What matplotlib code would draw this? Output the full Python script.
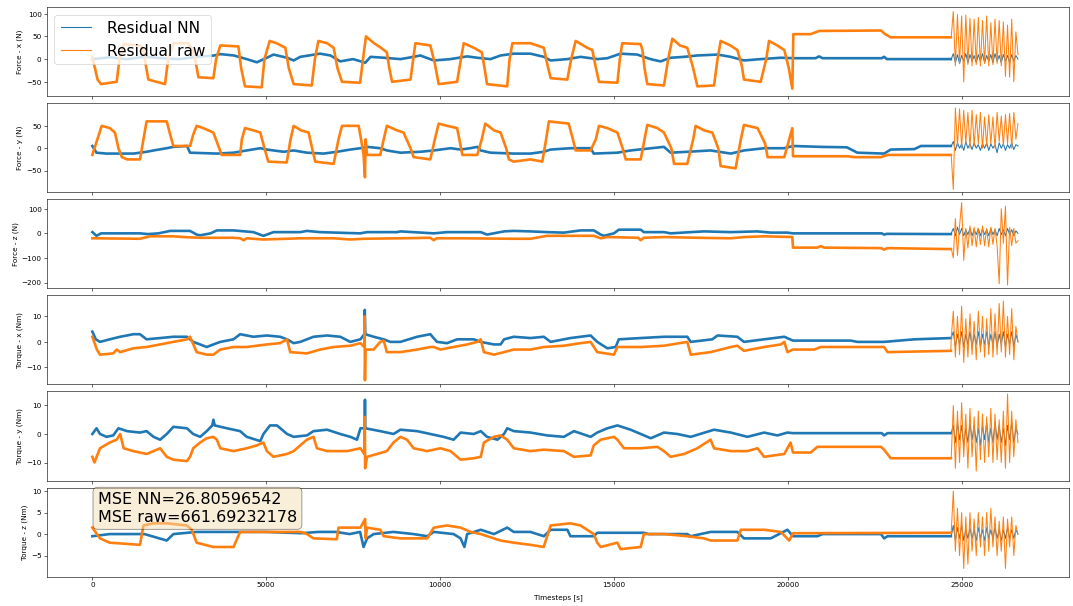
import numpy as np
import matplotlib.pyplot as plt

# residual traces as (timestep, value) knots,
# the oscillating tail (from step 24700 on) is given on a 60 step grid

fx_nn = [(0, 0), (500, 4), (1000, 0), (1500, 5), (2000, 2), (2500, 0), (3000, 5), (3500, 8),
         (3680, 11), (4070, 8), (4440, 0), (4730, -7), (5020, 3), (5210, 10), (5600, 3), (5790, -3),
         (5980, 5), (6550, 12), (6850, 8), (7130, -5), (7500, 0), (7850, -8), (8000, 5), (8380, 3),
         (8860, 0), (9240, 5), (9430, 8), (9820, -3), (10300, 0), (10780, 6), (11070, 3), (11450, 0),
         (11740, 8), (12120, 12), (12600, 12), (12985, 5), (13180, -3), (13660, 0), (14040, 5),
         (14520, 0), (14810, 2), (15190, 12), (15670, 10), (16050, 0), (16340, -5), (16630, 3),
         (17020, 5), (17400, 8), (17980, 10), (18360, 5), (18740, -3), (19220, 0), (19800, 3),
         (20180, 2), (20800, 2), (20900, 6), (21000, 2), (22700, 2), (22770, 5), (22850, 0), (24690, 0)]
fx_raw = [(0, 5), (150, -45), (250, -55), (700, -50), (780, 0), (900, 33), (1370, 30), (1450, 25),
          (1530, -10), (1610, -45), (2090, -55), (2180, 0), (2330, 35), (2750, 35), (2900, 20),
          (2980, -10), (3050, -40), (3480, -42), (3560, 0), (3680, 30), (4200, 28), (4280, -20),
          (4390, -60), (4870, -62), (4950, 0), (5100, 40), (5300, 35), (5550, 25), (5650, -20),
          (5790, -55), (6310, -58), (6400, 0), (6500, 40), (6750, 35), (6940, 25), (7050, -20),
          (7180, -50), (7700, -52), (7800, 10), (7870, 50), (8100, 35), (8300, 25), (8470, 15),
          (8540, -20), (8620, -50), (9150, -45), (9220, -5), (9290, 35), (9720, 30), (9850, -10),
          (9960, -55), (10490, -50), (10600, 0), (10680, 35), (10970, 25), (11200, 15), (11280, -20),
          (11350, -55), (11930, -60), (12000, 0), (12080, 35), (12600, 35), (12985, 25), (13080, -10),
          (13180, -42), (13660, -45), (13770, 0), (13900, 40), (14230, 25), (14380, 20), (14470, -15),
          (14570, -50), (15100, -52), (15170, 0), (15240, 35), (15770, 33), (15820, 20), (15880, -20),
          (15960, -55), (16440, -58), (16560, 0), (16680, 45), (16900, 30), (17110, 25), (17280, -20),
          (17400, -60), (17880, -58), (17980, 0), (18070, 40), (18350, 30), (18550, 20), (18680, -15),
          (18740, -45), (19220, -50), (19380, 0), (19460, 40), (19700, 30), (19900, 20), (20030, -20),
          (20130, -65), (20160, 55), (20660, 55), (20900, 62), (22680, 63), (22800, 55), (22960, 48),
          (24690, 48)]
fx_nn_osc = [0, 12, -8, 10, -10, 8, -5, 12, -8, 10, -5, 8, -8, 10, -5, 12, -8, 8, -5, 10, -8, 12,
             -5, 8, -8, 10, -5, 8, -8, 10, -5, 8, 0]
fx_raw_osc = [48, 105, -15, 98, -10, 95, -50, 97, -12, 90, -15, 88, -12, 92, -15, 85, -10, 95, -15,
              80, -12, 88, -10, 85, -15, 82, -38, 75, -40, 88, -50, 60, 10]

fy_nn = [(0, 5), (120, -10), (400, -12), (1180, -12), (1560, -8), (1760, -5), (2140, 0), (2330, 3),
         (2720, 5), (2810, -10), (3580, -12), (4060, -10), (4440, -5), (4830, 0), (5020, -3),
         (5500, -8), (5790, -5), (6170, -10), (6650, -12), (7030, -8), (7420, -3), (7710, 0),
         (7900, 3), (8280, 0), (8470, -5), (8860, -10), (9430, -8), (9820, -5), (10300, 0),
         (10590, -3), (10870, 0), (11070, 3), (11170, -5), (11450, -10), (12120, -12), (12600, -12),
         (12980, -8), (13180, -3), (13750, 0), (14330, 0), (14420, -12), (15100, -10), (15480, -5),
         (16440, 3), (16630, -10), (17110, -8), (17780, -5), (18360, -12), (18740, -5), (19320, 0),
         (19900, 0), (20150, 5), (20950, 3), (21700, 2), (22000, -10), (22770, -12), (22960, -3),
         (23640, -2), (23830, 5), (24690, 5)]
fy_raw = [(0, -15), (270, 50), (500, 45), (650, 35), (750, 0), (850, -20), (1000, -25), (1370, -25),
          (1470, 20), (1560, 60), (2140, 60), (2240, 30), (2330, 5), (2810, 5), (2900, 30), (3000, 50),
          (3190, 45), (3480, 35), (3600, 10), (3720, -15), (4250, -15), (4300, 20), (4390, 45),
          (4630, 40), (4830, 35), (4950, 0), (5060, -30), (5590, -32), (5700, 20), (5790, 50),
          (6000, 40), (6220, 35), (6320, 0), (6410, -30), (6940, -35), (7080, 20), (7180, 50),
          (7660, 50), (7750, 10), (7800, -15), (7840, -65), (7860, 20), (7900, -15), (8280, -15),
          (8380, 20), (8470, 50), (8760, 40), (8950, 35), (9150, 0), (9240, -20), (9720, -25),
          (9850, 20), (9960, 55), (10200, 50), (10490, 45), (10580, 10), (10640, -15), (11070, -15),
          (11200, 20), (11300, 55), (11550, 40), (11740, 35), (11900, 0), (11980, -25), (12120, -30),
          (12600, -25), (12940, -30), (13050, 20), (13130, 60), (13700, 55), (13820, 20), (13900, -5),
          (14330, -5), (14480, 20), (14570, 50), (14810, 45), (15100, 35), (15250, 0), (15340, -25),
          (15770, -25), (15880, 20), (15960, 52), (16250, 45), (16440, 35), (16650, 0), (16730, -35),
          (17110, -35), (17280, 20), (17350, 50), (17590, 40), (17830, 35), (18000, 0), (18070, -40),
          (18500, -45), (18650, 20), (18740, 52), (19130, 45), (19350, 10), (19420, -20), (19900, -20),
          (20130, 45), (20150, -18), (21720, -18), (21910, -20), (22680, -20), (22870, -15),
          (24690, -15)]
fy_nn_osc = [5, 15, -5, 12, 0, 10, -5, 15, 0, 10, -3, 12, 0, 8, -5, 10, 0, 12, -5, 10, 0, 8, -10,
             12, 0, 10, -5, 8, 0, 12, -3, 8, 5]
fy_raw_osc = [-15, -92, 90, 5, 88, 0, 85, 10, 80, 0, 85, 5, 75, 10, 80, 0, 70, 5, 75, 10, 70, 0, 80,
              15, 72, 5, 75, 10, 78, 0, 80, 20, 55]

fz_nn = [(0, 5), (120, -10), (250, 0), (1370, 0), (1600, -3), (1900, 0), (2240, 10), (2810, 10),
         (3000, -5), (3100, -8), (3400, 0), (3580, 12), (4060, 12), (4630, 5), (4920, -10), (5210, 5),
         (5980, 5), (6170, 10), (6550, 5), (7700, 0), (7900, 5), (8760, 5), (8860, 8), (9820, 0),
         (10200, 5), (11170, 5), (11350, -5), (11840, 8), (12120, 10), (12600, 8), (13080, 5),
         (13560, 3), (14040, 12), (14420, 12), (14620, -5), (14710, -10), (15000, 0), (15140, 15),
         (15770, 15), (15860, 5), (16440, 5), (16630, 0), (17210, 5), (17590, 8), (18360, 5),
         (19120, 8), (19510, 3), (19990, 3), (20150, 0), (22700, 0), (22770, -5), (22850, -2),
         (24690, -3)]
fz_raw = [(0, -20), (1370, -22), (1660, -12), (2330, -12), (2620, -15), (3100, -18), (4060, -18),
          (4250, -20), (4350, -28), (4440, -20), (4920, -25), (5590, -22), (5980, -20), (6940, -20),
          (7420, -25), (7800, -22), (8860, -20), (9720, -18), (9820, -28), (9900, -20), (10590, -20),
          (12120, -22), (12600, -22), (13080, -10), (14420, -10), (14620, -20), (14810, -15),
          (15700, -18), (15770, -28), (15860, -18), (16440, -15), (17400, -18), (18360, -20),
          (18740, -15), (19320, -12), (20130, -15), (20150, -58), (20850, -58), (20950, -52),
          (21050, -58), (22680, -60), (22770, -66), (22870, -60), (24690, -64)]
fz_nn_osc = [0, 20, -10, 25, -5, 20, -10, 15, -5, 20, -10, 15, -5, 20, -10, 18, -5, 15, -10, 20, -5,
             15, -10, 20, -5, 15, -10, 20, -5, 15, -10, 10, 0]
fz_raw_osc = [-60, -100, 60, -90, 30, 125, -110, 20, -60, 30, -50, 25, -55, 20, -45, 30, -50, 20,
              -55, 25, -45, 20, -50, -205, 100, -40, 110, -210, 25, -50, 20, -40, -30]

tx_nn = [(0, 4), (100, 1), (220, 0), (500, 1), (800, 2), (1180, 3), (1370, 3), (1560, 1),
         (1950, 1.5), (2330, 2), (2720, 2), (2900, 0), (3100, -1), (3290, -2), (3480, -1), (3680, 0),
         (4060, 1), (4250, 3), (4630, 2), (5020, 2.5), (5400, 2), (5600, 1), (5790, -0.5), (5980, 0),
         (6360, 2), (6750, 2.5), (7130, 2), (7420, 0), (7710, 1), (7820, 3), (7835, 12.5), (7850, 3),
         (8090, 2), (8380, 1), (8570, 0), (8860, 0), (9340, 2), (9720, 3), (9910, 0), (10200, -0.5),
         (10490, 1), (10970, 1), (11170, 0), (11550, -1), (11740, -1), (11840, 1), (12120, 2),
         (12600, 1.5), (12985, 2), (13180, 0), (13750, 1.5), (14330, 2.5), (14520, 0), (14810, -2.5),
         (15050, -2), (15140, 1), (15770, 1.5), (16440, 2), (17110, 2), (17210, 0), (17830, 1),
         (17980, 2.5), (18550, 2), (18740, 0), (19320, 1), (19900, 2), (20150, 0.5), (21810, 0.5),
         (22000, 0), (22770, 0), (23640, 1), (24690, 1.5)]
tx_raw = [(0, 2), (130, -3), (220, -5), (600, -4.5), (700, -3), (800, -4), (1180, -2.5), (1560, -2),
          (1950, -1), (2330, 0), (2720, 1), (2810, 2), (3000, -4), (3290, -5), (3480, -5), (3680, -3),
          (4060, -2), (4440, -2), (5020, -1), (5400, -0.5), (5600, 1), (5690, -4), (6170, -4.5),
          (6550, -3), (6940, -2), (7420, -1.5), (7710, -0.5), (7820, -2), (7830, 10), (7840, -15),
          (7855, -3), (8090, -3), (8280, 0), (8380, 0.5), (8470, -4), (8860, -4), (9340, -3),
          (9720, -2), (9820, -2), (10010, -3), (10390, -2), (10780, -1), (11070, 0), (11170, 1),
          (11260, -4), (11550, -5), (11840, -4), (12120, -3), (12600, -3), (12985, -2), (13560, -1.5),
          (14040, -0.5), (14330, 0), (14520, -4), (15000, -5), (15100, -2), (15770, -2),
          (16440, -1.5), (17110, 0), (17210, -5), (17780, -4), (18360, -2), (18550, -1.5),
          (18740, -3.5), (19320, -2), (19800, -1), (19900, 0), (19990, -4), (20150, -3), (20760, -3),
          (20950, -2), (22770, -2), (22870, -4), (24690, -3.5)]
tx_nn_osc = [1.5, 4, -2, 3, -1, 4, -2, 3, -1, 4, -2, 3, -1, 4, -2, 3, -1, 4, -2, 3, -1, 4, -2, 3,
             -1, 4, -2, 3, -1, 4, -2, 3, 0]
tx_raw_osc = [1.5, 12, -6, 10, -5, 14, -8, 9, -6, 11, -5, 8, -7, 12, -4, 10, -6, 9, -5, 13, -6, 11,
              -5, 15, -4, 16, -6, 10, -5, 13, -7, 6, 0]

ty_nn = [(0, 0), (120, 2), (220, 0), (410, -1), (600, -0.5), (750, 2), (1000, 1), (1370, 0.5),
         (1560, 1), (1760, -1), (1950, -2), (2140, 0), (2330, 2.5), (2720, 2), (2900, 0), (3100, -1),
         (3290, 1), (3450, 3), (3480, 5), (3520, 3), (3870, 2), (4250, 1), (4440, -1), (4830, -2.5),
         (4920, 0), (5110, 3), (5310, 3), (5600, 0), (5790, -1), (6170, -0.5), (6360, 1), (6750, 1.5),
         (7130, 0), (7420, -1), (7610, -2), (7710, 2), (7830, 2), (7840, 12), (7850, 2), (8280, 1),
         (8660, 0), (8860, 1.5), (9340, 1), (9720, 0), (10100, -1), (10390, -2), (10590, 0.5),
         (10970, 0), (11170, 1), (11350, -1), (11650, -2), (11840, 0), (11930, 2), (12120, 1),
         (12600, 0.5), (13080, -0.5), (13560, -1), (13850, 1), (14330, -1), (14520, 0.5), (14810, 2),
         (15100, 3), (15480, 1.5), (15770, 0), (16060, -1.5), (16440, 0.5), (16820, 0), (17210, -1),
         (17880, 1.5), (18360, 0.5), (18840, -1), (19320, 0.5), (19700, -0.5), (19990, 0.5),
         (20150, 0.3), (22700, 0.3), (22770, -0.5), (22870, 0.3), (24690, 0.3)]
ty_raw = [(0, -8), (60, -10), (220, -5), (500, -3), (700, -2), (800, 0), (900, -5), (1180, -6),
          (1560, -7), (1760, -6), (1950, -5), (2140, -8), (2330, -9), (2720, -9.5), (2810, -8),
          (2900, -5), (3100, -3), (3290, -1.5), (3480, -1), (3580, -2), (3680, -5), (4060, -6),
          (4440, -5), (4730, -4), (4920, -3), (5020, -6), (5210, -8), (5600, -7), (5790, -6),
          (5980, -4), (6170, -2), (6360, -1), (6460, -5), (6750, -6), (7330, -6), (7710, -5),
          (7820, -7), (7835, 6), (7845, -12), (7900, -8), (8190, -7), (8470, -6), (8660, -3),
          (8860, -1), (9050, -2), (9240, -5), (9630, -6), (10010, -5), (10300, -6), (10590, -9),
          (10970, -8.5), (11170, -8), (11260, -3), (11550, -1), (11740, -0.5), (11930, -2),
          (12120, -5), (12600, -6), (12980, -5.5), (13560, -6), (13850, -8), (14330, -7.5),
          (14420, -4), (14620, -2), (15000, -1), (15100, -2), (15290, -5), (15770, -5), (16250, -4.5),
          (16440, -6), (16630, -8), (17020, -7), (17400, -5), (17780, -2), (17880, -5), (18360, -6),
          (18840, -6), (19130, -5), (19320, -8), (19900, -7), (20080, -3), (20150, -6.5),
          (20660, -6.5), (20850, -4.5), (22680, -4.5), (22770, -5.5), (22960, -8.5), (24690, -8.5)]
ty_nn_osc = [0.3, 3, -3, 4, -2, 3, -4, 2, -3, 4, -2, 3, -3, 2, -4, 3, -2, 4, -3, 2, -3, 4, -2, 3,
             -3, 2, -4, 3, -2, 4, -3, 2, 0]
ty_raw_osc = [-8.5, 10, -12, 8, -10, 11, -8, 7, -12, 9, -8, 6, -13, 8, -9, 7, -10, 6, -8, 9, -10, 7,
              -9, 5, -10, 8, -12, 14, -10, 8, -8, 5, -3]

tz_nn = [(0, -0.5), (500, 0), (1500, 0), (2140, -1.5), (2330, 0), (3000, 0.5), (4000, 0.5),
         (5000, 0.5), (6000, 0.2), (6500, 0.5), (7000, 0.5), (7400, 0), (7700, 0.5), (7800, -3),
         (7900, -1), (8090, 0), (8660, 0.5), (9240, 0), (9630, -0.5), (9820, 0.5), (10390, 0),
         (10590, -1), (10700, -3), (10780, 0), (11170, 1), (11550, 0), (11930, 1.5), (12120, 0.5),
         (12600, 0.5), (12985, -0.5), (13180, 1), (13660, 1), (13750, -0.5), (14420, -0.5),
         (14520, 0.3), (15860, 0.3), (16000, 0), (17110, 0), (17210, -0.5), (17780, 0.5),
         (18550, 0.5), (18740, -1), (19510, -1), (19990, 1), (20150, -0.5), (20850, -0.5), (21000, 0),
         (22680, 0), (22770, -1), (22870, -0.5), (24690, -0.5)]
tz_raw = [(0, 1.5), (220, -1), (500, -2), (1370, -2.5), (1470, 2), (1760, 2.5), (2140, 2.5),
          (2720, 2), (2860, 1), (3000, -2), (3480, -3), (4060, -3), (4250, 0.5), (4630, 0.5),
          (6000, 0.5), (6170, 0), (6360, -1), (7030, -1.2), (7080, 1.5), (7710, 1.5), (7845, 3.5),
          (7860, -1), (7900, 1.5), (8280, 1), (8380, -0.5), (8860, -1), (9630, -1), (9820, 1.5),
          (10200, 2), (10590, 1.5), (10880, 0.5), (11170, 0), (11740, -1.5), (12120, -2),
          (12600, -2.5), (12980, -3), (13180, 2), (13750, 2.5), (14040, 2), (14420, 0), (14520, -2),
          (14620, -3), (15100, -2), (15190, -3.5), (15770, -3), (15860, 0), (16440, 0), (17110, -0.5),
          (17590, -1), (17780, -1.5), (18550, -1.5), (18650, 1), (19320, 1), (19800, 0.5),
          (20040, -1.5), (20150, 0.2), (24690, 0.3)]
tz_nn_osc = [-0.5, 2, -1.5, 1.5, -1, 2, -1.5, 1, -1, 1.5, -1, 1, -1.5, 1.5, -1, 1, -1.5, 1.5, -1, 1,
             -1, 1.5, -1, 1, -1.5, 1, -1, 1.5, -1, 1, -1, 1, 0]
tz_raw_osc = [0.3, 10, -4, 6, -5, 5, -8, 4, -7, 5, -4, 3.5, -5, 5, -3, 4, -5, 5, -4, 6, -3, 4, -5, 3,
              -4, 4, -8, 3.5, -3, 4, -5, 2, 0]

ylabels = ['Force - x (N)', 'Force - y (N)', 'Force - z (N)',
           'Torque - x (Nm)', 'Torque - y (Nm)', 'Torque - z (Nm)']
mse_nn = 26.80596542
mse_raw = 661.69232178

OSC_START = 24700
OSC_STEP = 60


# joins the knot part and the oscillating tail of one trace
def trace(knots, osc):
    t, v = np.array(knots, dtype=float).T
    t_osc = OSC_START + OSC_STEP * np.arange(len(osc))
    return t, v, t_osc, np.array(osc, dtype=float)


# draws one trace, the noisy part as a thick band and the tail thin
def plot_trace(ax, knots, osc, color, label=None):
    t, v, t_osc, v_osc = trace(knots, osc)
    ax.plot(t, v, color=color, lw=3.6, label=label)
    ax.plot(np.r_[t[-1], t_osc], np.r_[v[-1], v_osc], color=color, lw=1.4)


panels = [
    (fx_nn, fx_nn_osc, fx_raw, fx_raw_osc, (-81, 115), [-50, 0, 50, 100]),
    (fy_nn, fy_nn_osc, fy_raw, fy_raw_osc, (-98, 101), [-50, 0, 50]),
    (fz_nn, fz_nn_osc, fz_raw, fz_raw_osc, (-223, 139), [-200, -100, 0, 100]),
    (tx_nn, tx_nn_osc, tx_raw, tx_raw_osc, (-16.6, 18.2), [-10, 0, 10]),
    (ty_nn, ty_nn_osc, ty_raw, ty_raw_osc, (-16.3, 14.9), [-10, 0, 10]),
    (tz_nn, tz_nn_osc, tz_raw, tz_raw_osc, (-9.9, 10.8), [-5, 0, 5, 10]),
]

DPI = 52.6
fig, axes = plt.subplots(6, 1, sharex=True, figsize=(1073.4 / DPI, 606.4 / DPI), dpi=DPI)
fig.subplots_adjust(left=0.0435, right=0.9963, top=0.988, bottom=0.0484, hspace=0.08)

for ax, (nn, nn_osc, raw, raw_osc, ylim, yticks), ylab in zip(axes, panels, ylabels):
    plot_trace(ax, nn, nn_osc, 'C0', 'Residual NN')
    plot_trace(ax, raw, raw_osc, 'C1', 'Residual raw')
    ax.set_ylim(*ylim)
    ax.set_yticks(yticks)
    ax.set_ylabel(ylab)

axes[-1].set_xlim(-1313, 28100)
axes[-1].set_xticks(range(0, 25001, 5000))
axes[-1].set_xlabel('Timesteps [s]', labelpad=8)

leg = axes[0].legend(loc='upper left', fontsize=21, handletextpad=1.0)
for line in leg.get_lines():
    line.set_linewidth(1.5)

axes[-1].text(0.05, 0.95, f'MSE NN={mse_nn:.8f}\nMSE raw={mse_raw:.8f}',
              transform=axes[-1].transAxes, fontsize=22, va='top',
              bbox=dict(boxstyle='round', facecolor='wheat', alpha=0.5))

fig.savefig('out.png', dpi=DPI)
